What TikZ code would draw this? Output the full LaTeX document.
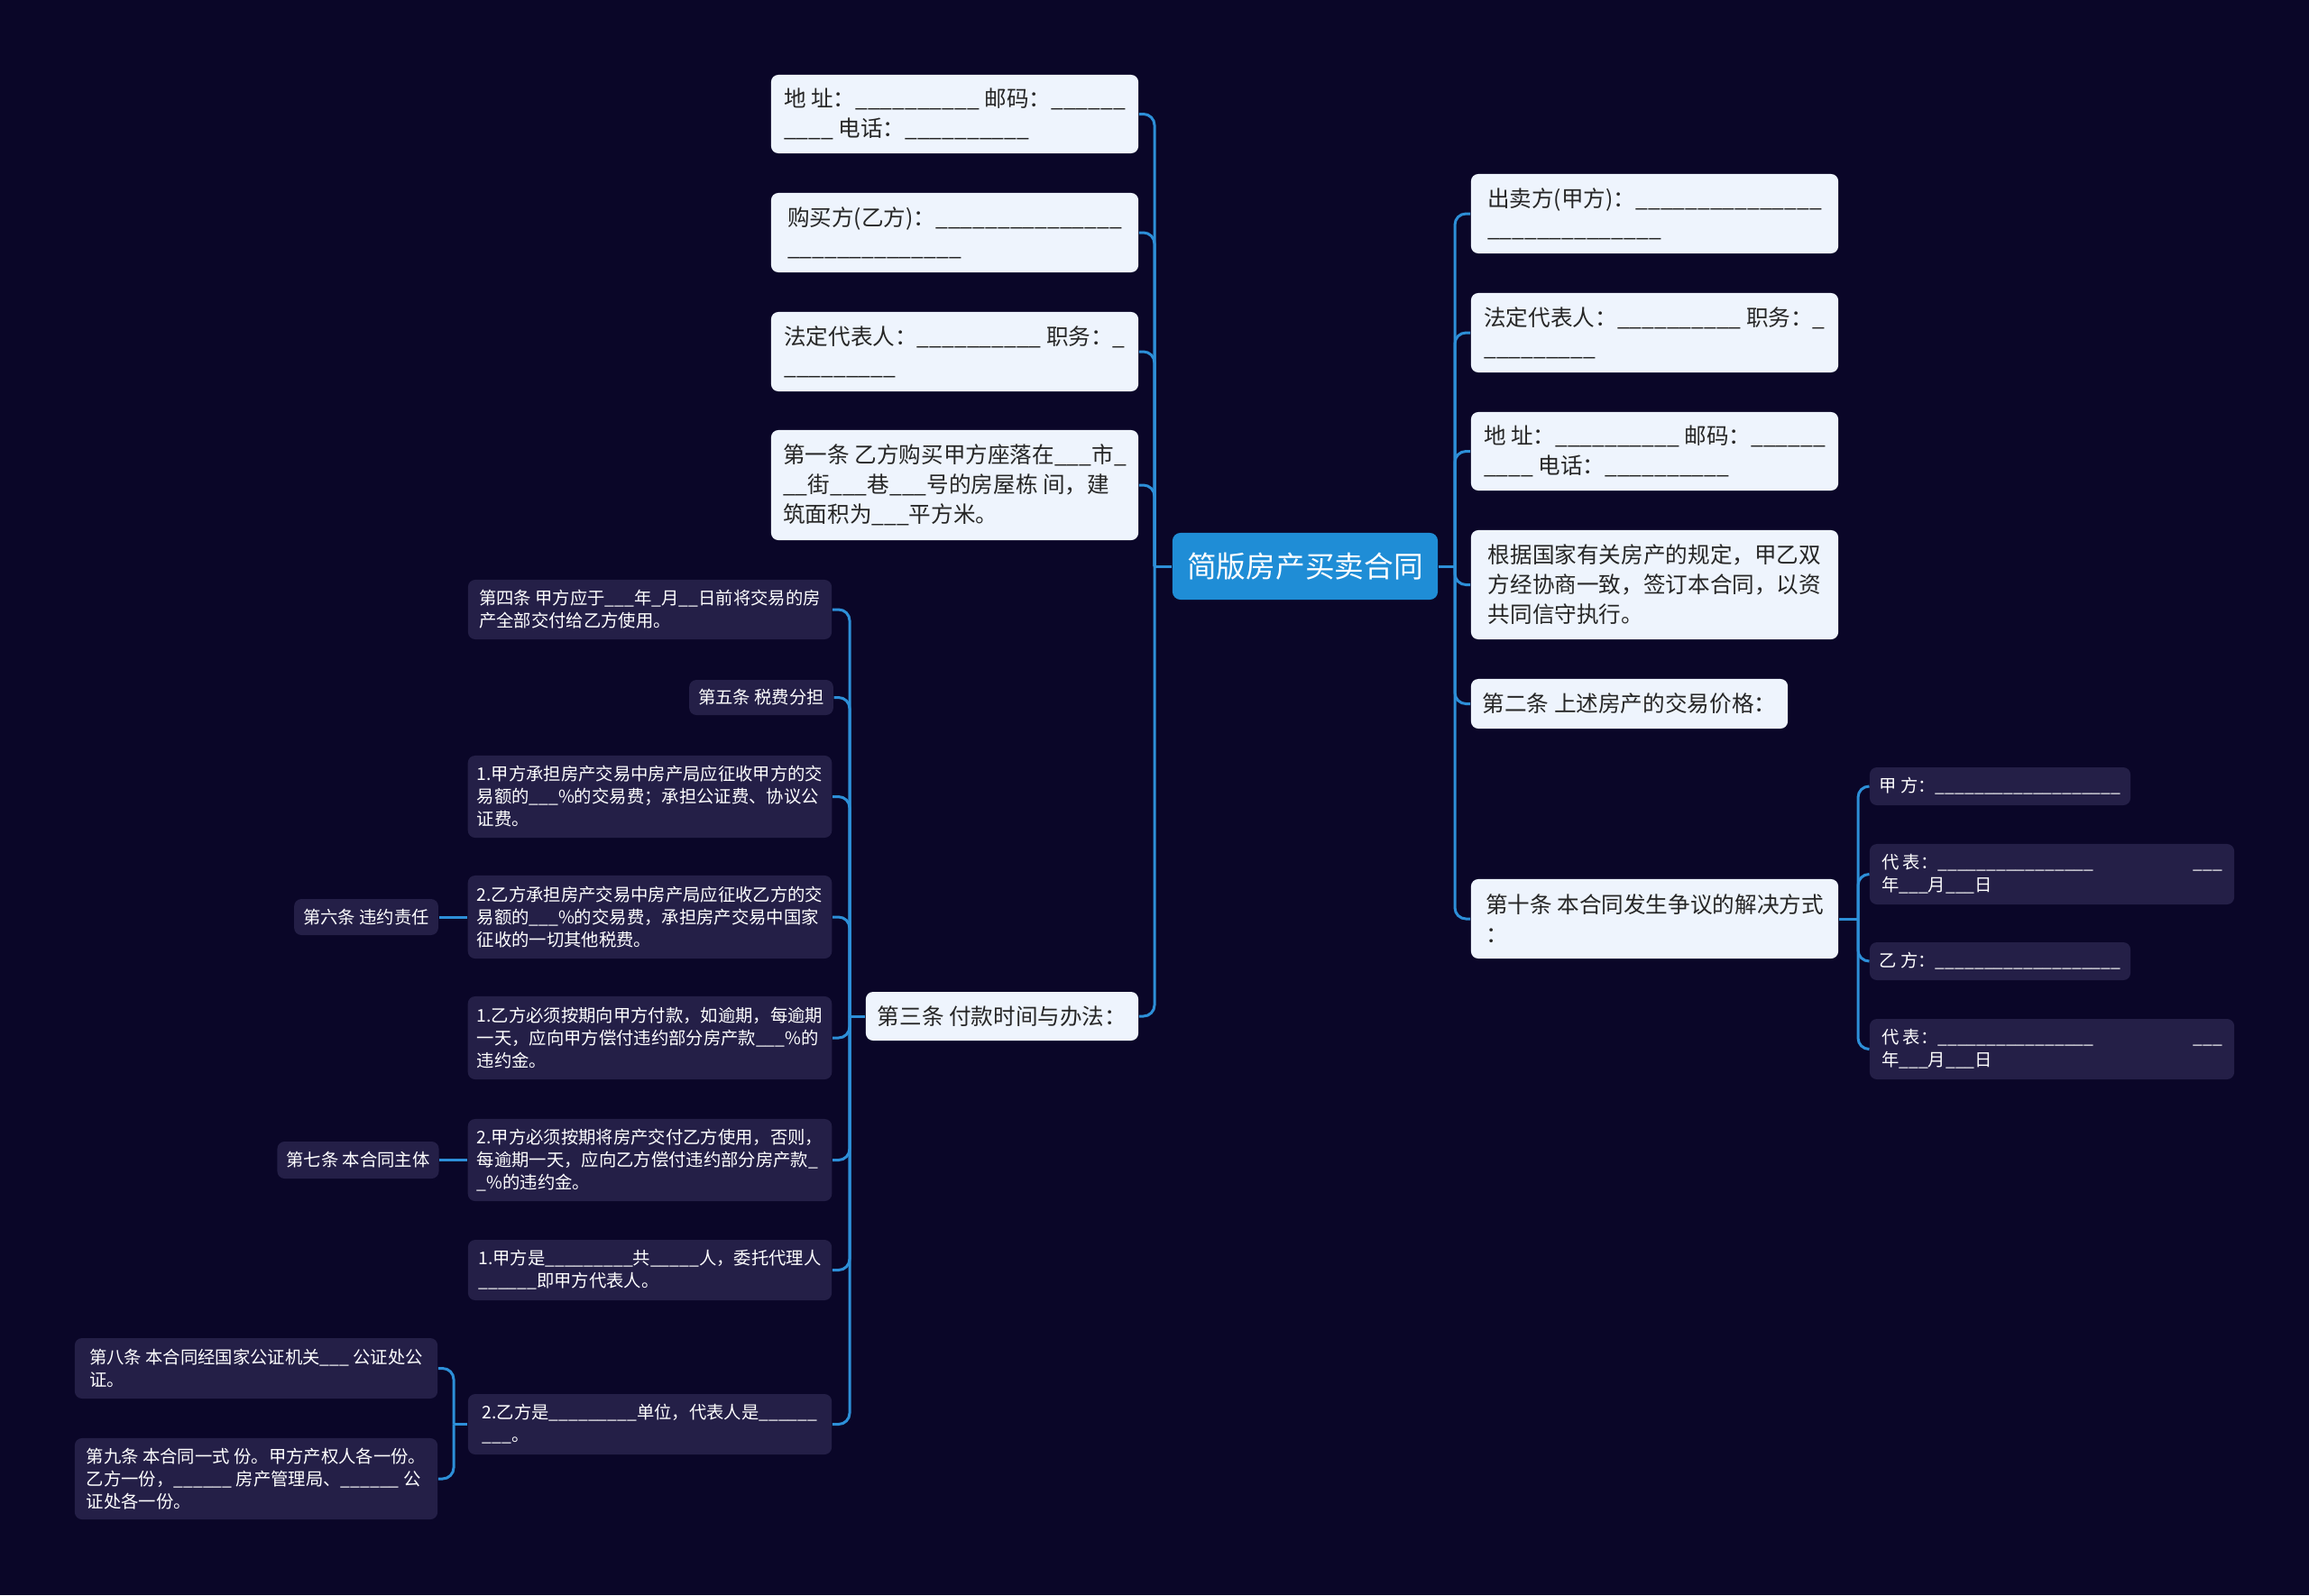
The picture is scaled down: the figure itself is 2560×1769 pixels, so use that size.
\documentclass[tikz,border=0pt]{standalone}
\usepackage{fontspec}
\setmainfont{Noto Sans CJK SC}

\definecolor{bgnavy}{HTML}{0A0628}
\definecolor{rootblue}{HTML}{1F8DD6}
\definecolor{linkblue}{HTML}{2D8FD8}
\definecolor{lightbox}{HTML}{EEF4FD}
\definecolor{darkbox}{HTML}{241F47}

% a run of blanks
\newcommand{\bl}[1]{\foreach \ii in {1,...,#1}{\_}}

\tikzset{
    root/.style={fill=rootblue, text=white, rounded corners=2.5pt, inner sep=0pt,
        font=\fontsize{9.3}{11}\selectfont, minimum width=2.94cm, minimum height=0.74cm},
    light/.style={fill=lightbox, text=black!85, rounded corners=2.3pt, align=left,
        inner xsep=0.11cm, inner ysep=0pt, font=\fontsize{7}{9.4}\selectfont, minimum width=4.07cm},
    dark/.style={fill=darkbox, text=white, rounded corners=2.3pt, align=left,
        inner xsep=0.1cm, inner ysep=0pt, font=\fontsize{5.5}{7.1}\selectfont, minimum width=4.03cm},
    link/.style={draw=linkblue, line width=0.85pt, rounded corners=3.5pt},
}

\begin{document}
\begin{tikzpicture}[x=0.01cm, y=-0.01cm]
    \fill[bgnavy] (0,0) rectangle (2560,1769);
    \useasboundingbox (0,0) rectangle (2560,1769);

    \node[root] (root) at (1447,628) {简版房产买卖合同};

    % left side
    \node[light, minimum height=0.87cm] (a1) at (1058.5,126.5) {地 址：\bl{10} 邮码：\bl{6}\\\bl{4} 电话：\bl{10}};
    \node[light, minimum height=0.88cm] (a2) at (1058.5,258) {购买方(乙方)：\bl{15}\\\bl{14}};
    \node[light, minimum height=0.88cm] (a3) at (1058.5,390) {法定代表人：\bl{10} 职务：\_\\\bl{9}};
    \node[light, minimum height=1.22cm] (a4) at (1058.5,538) {第一条 乙方购买甲方座落在\bl{3}市\_\\\bl{2}街\bl{3}巷\bl{3}号的房屋栋 间，建\\筑面积为\bl{3}平方米。};
    \node[light, minimum width=3.02cm, minimum height=0.54cm] (a5) at (1111,1127) {第三条 付款时间与办法：};

    % right side
    \node[light, minimum height=0.88cm] (b1) at (1834.5,237) {出卖方(甲方)：\bl{15}\\\bl{14}};
    \node[light, minimum height=0.88cm] (b2) at (1834.5,369) {法定代表人：\bl{10} 职务：\_\\\bl{9}};
    \node[light, minimum height=0.87cm] (b3) at (1834.5,500.5) {地 址：\bl{10} 邮码：\bl{6}\\\bl{4} 电话：\bl{10}};
    \node[light, minimum height=1.21cm] (b4) at (1834.5,648.5) {根据国家有关房产的规定，甲乙双\\方经协商一致，签订本合同，以资\\共同信守执行。};
    \node[light, minimum width=3.51cm, minimum height=0.55cm] (b5) at (1806.5,780.5) {第二条 上述房产的交易价格：};
    \node[light, minimum height=0.88cm] (b6) at (1834.5,1019) {第十条 本合同发生争议的解决方式\\：};

    % disputes
    \node[dark, minimum width=2.89cm, minimum height=0.42cm] (c1) at (2217.5,872) {甲 方：\bl{19}};
    \node[dark, minimum width=4.04cm, minimum height=0.67cm] (c2) at (2275,969.5) {代 表：\bl{16}\hspace{1.1cm}\bl{3}\\年\bl{3}月\bl{3}日};
    \node[dark, minimum width=2.89cm, minimum height=0.42cm] (c3) at (2217.5,1066) {乙 方：\bl{19}};
    \node[dark, minimum width=4.04cm, minimum height=0.67cm] (c4) at (2275,1163.5) {代 表：\bl{16}\hspace{1.1cm}\bl{3}\\年\bl{3}月\bl{3}日};

    % payment
    \node[dark, minimum height=0.66cm] (d1) at (720.5,676) {第四条 甲方应于\bl{3}年\_月\bl{2}日前将交易的房\\产全部交付给乙方使用。};
    \node[dark, minimum width=1.56cm, minimum height=0.39cm] (d2) at (844,773.5) {第五条 税费分担};
    \node[dark, minimum height=0.91cm] (d3) at (720.5,883.5) {1.甲方承担房产交易中房产局应征收甲方的交\\易额的\bl{3}\%的交易费；承担公证费、协议公\\证费。};
    \node[dark, minimum height=0.92cm] (d4) at (720.5,1017) {2.乙方承担房产交易中房产局应征收乙方的交\\易额的\bl{3}\%的交易费，承担房产交易中国家\\征收的一切其他税费。};
    \node[dark, minimum height=0.92cm] (d5) at (720.5,1151) {1.乙方必须按期向甲方付款，如逾期，每逾期\\一天，应向甲方偿付违约部分房产款\bl{3}\%的\\违约金。};
    \node[dark, minimum height=0.91cm] (d6) at (720.5,1286.5) {2.甲方必须按期将房产交付乙方使用，否则，\\每逾期一天，应向乙方偿付违约部分房产款\_\\\_\%的违约金。};
    \node[dark, minimum height=0.67cm] (d7) at (720.5,1408.5) {1.甲方是\bl{9}共\bl{5}人，委托代理人\\\bl{6}即甲方代表人。};
    \node[dark, minimum height=0.67cm] (d8) at (720.5,1579.5) {2.乙方是\bl{9}单位，代表人是\bl{6}\\\bl{3}。};

    \node[dark, minimum width=1.58cm, minimum height=0.40cm] (e6) at (406,1017) {第六条 违约责任};
    \node[dark, minimum width=1.76cm, minimum height=0.41cm] (e7) at (397,1286.5) {第七条 本合同主体};
    \node[dark, minimum width=4.02cm, minimum height=0.67cm] (e8) at (284,1517.5) {第八条 本合同经国家公证机关\bl{3} 公证处公\\证。};
    \node[dark, minimum width=4.02cm, minimum height=0.90cm] (e9) at (284,1640) {第九条 本合同一式 份。甲方产权人各一份。\\乙方一份，\bl{6} 房产管理局、\bl{6} 公\\证处各一份。};

    % spines
    \coordinate (lsp) at (1280,628);
    \coordinate (rsp) at (1613,628);
    \coordinate (csp) at (2060,1019);
    \coordinate (dsp) at (942,1127);
    \coordinate (esp) at (503,1579.5);

    \draw[link] (root.west) -- (lsp);
    \draw[link] (root.east) -- (rsp);
    \foreach \n in {a1,a2,a3,a4,a5}
        \draw[link] (lsp) |- (\n.east);
    \foreach \n in {b1,b2,b3,b4,b5,b6}
        \draw[link] (rsp) |- (\n.west);

    \draw[link] (b6.east) -- (csp);
    \foreach \n in {c1,c2,c3,c4}
        \draw[link] (csp) |- (\n.west);

    \draw[link] (a5.west) -- (dsp);
    \foreach \n in {d1,d2,d3,d4,d5,d6,d7,d8}
        \draw[link] (dsp) |- (\n.east);

    \draw[link] (d4.west) -- (e6.east);
    \draw[link] (d6.west) -- (e7.east);
    \draw[link] (d8.west) -- (esp);
    \foreach \n in {e8,e9}
        \draw[link] (esp) |- (\n.east);
\end{tikzpicture}
\end{document}
